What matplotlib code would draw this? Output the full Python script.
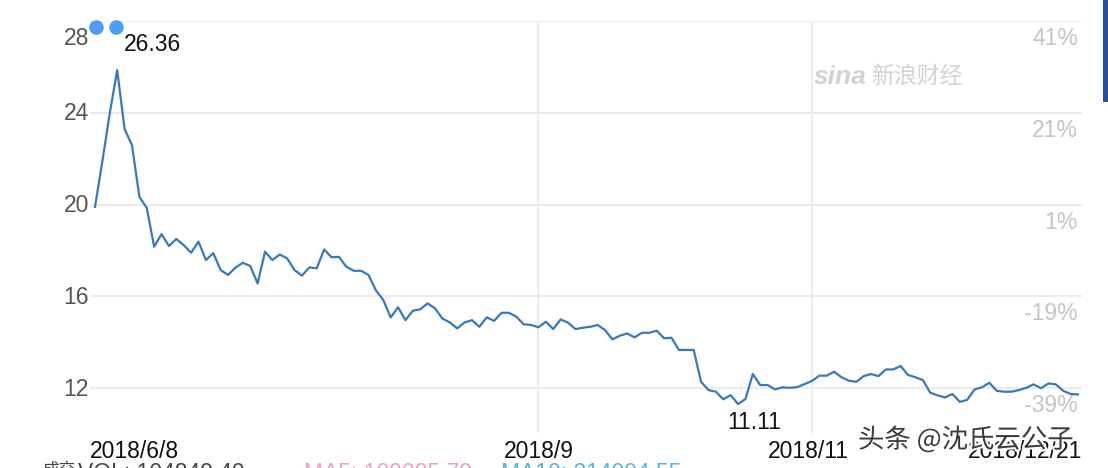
import matplotlib
matplotlib.use("Agg")
import matplotlib.pyplot as plt
import matplotlib.patheffects as pe
from matplotlib import transforms
from matplotlib.lines import Line2D
from matplotlib.patches import Rectangle

plt.rcParams['font.family'] = ['Liberation Sans', 'Noto Sans CJK SC', 'DejaVu Sans']

# daily close, 2018/6/8 .. 2018/12/21
close = [19.90, 21.90, 23.99, 25.86, 23.29, 22.59, 20.34, 19.85, 18.16, 18.71,
         18.19, 18.50, 18.23, 17.90, 18.38, 17.58, 17.88, 17.14, 16.93, 17.25,
         17.46, 17.32, 16.56, 17.94, 17.58, 17.82, 17.65, 17.14, 16.90, 17.26,
         17.22, 18.04, 17.70, 17.72, 17.29, 17.11, 17.11, 16.93, 16.26, 15.84,
         15.08, 15.52, 14.96, 15.37, 15.43, 15.69, 15.47, 15.03, 14.86, 14.60,
         14.86, 14.96, 14.67, 15.08, 14.93, 15.28, 15.28, 15.11, 14.78, 14.75,
         14.65, 14.89, 14.57, 14.99, 14.85, 14.57, 14.63, 14.67, 14.75, 14.53,
         14.12, 14.28, 14.38, 14.21, 14.41, 14.41, 14.50, 14.17, 14.19, 13.66,
         13.66, 13.66, 12.27, 11.91, 11.84, 11.51, 11.69, 11.30, 11.52, 12.61,
         12.13, 12.13, 11.94, 12.03, 12.01, 12.04, 12.17, 12.31, 12.54, 12.54,
         12.71, 12.47, 12.32, 12.27, 12.52, 12.61, 12.52, 12.81, 12.81, 12.96,
         12.57, 12.47, 12.35, 11.80, 11.68, 11.59, 11.74, 11.40, 11.48, 11.94,
         12.03, 12.23, 11.88, 11.84, 11.84, 11.91, 12.01, 12.16, 11.99, 12.20,
         12.16, 11.88, 11.74, 11.72]

price_ticks = [12, 16, 20, 24, 28]
pct_labels = ['-39%', '-19%', '1%', '21%', '41%']
date_pos = [0, 60, 97, 133]
date_labels = ['2018/6/8', '2018/9', '2018/11', '2018/12/21']
high_label = '26.36'
low_label = '11.11'
vol_parts = [('成交', '#444444'), ('VOL: 104840.40', '#444444'),
             ('MA5: 109095.79', '#f0a2bb'), ('MA10: 214094.55', '#5ab2dc')]

W, H = 1108, 468
fig = plt.figure(figsize=(W / 100, H / 100), dpi=100)

def fx(px):
    return px / W

def fy(py):
    return 1 - py / H

ax = fig.add_axes([fx(90), fy(433), fx(1082 - 90), (433 - 21) / H])
x = list(range(len(close)))
ax.plot(x, close, color='#3878bd', lw=1.6)
ax.set_xlim(-0.68, len(close) - 1 + 0.54)
ax.set_ylim(10.04, 28)
ax.set_yticks(price_ticks)
ax.set_xticks(date_pos[1:3])
ax.grid(color='#e9e9e9', lw=1.3)
ax.tick_params(length=0, labelleft=False, labelbottom=False)
for s in ax.spines.values():
    s.set_visible(False)

fs = 16.5
# left price labels
yl = transforms.blended_transform_factory(ax.transAxes, ax.transData)
for p in price_ticks:
    if p == price_ticks[-1]:
        t = transforms.offset_copy(yl, fig=fig, x=-1, y=-6, units='dots')
        ax.text(0, p, str(p), transform=t, ha='right', va='top', fontsize=fs, color='#555555')
    else:
        t = transforms.offset_copy(yl, fig=fig, x=-1, y=-1, units='dots')
        ax.text(0, p, str(p), transform=t, ha='right', va='center', fontsize=fs, color='#555555')

# right percent labels
for p, lab in zip(price_ticks, pct_labels):
    t = transforms.offset_copy(yl, fig=fig, x=-4, y=-6, units='dots')
    ax.text(1, p, lab, transform=t, ha='right', va='top', fontsize=fs, color='#c4c4c4')

# date labels
xd = transforms.blended_transform_factory(ax.transData, fig.transFigure)
aligns = ['left', 'center', 'center', 'right']
shifts = [-0.7, 0, -0.5, 0.6]
for pos, lab, ha, sh in zip(date_pos, date_labels, aligns, shifts):
    ax.text(pos + sh, fy(452), lab, transform=xd, ha=ha, va='center', fontsize=fs, color='#111111')

# high / low marks
imax = close.index(max(close))
imin = close.index(min(close))
ax.annotate(high_label, xy=(imax, close[imax]), xytext=(7, 26), textcoords='offset pixels',
            ha='left', va='center', fontsize=fs, color='#111111')
ax.annotate(low_label, xy=(imin, close[imin]), xytext=(16, -18), textcoords='offset pixels',
            ha='center', va='center', fontsize=fs, color='#111111')

# legend dots
fig.add_artist(Line2D([fx(96), fx(116)], [fy(27), fy(27)], transform=fig.transFigure,
                      ls='none', marker='o', ms=10.5, color='#4e9df2', mec='none'))

# sina watermark
fig.text(fx(814), fy(77), 'sina', fontsize=19, fontweight='bold', fontstyle='italic',
         color='#d2d2d2', ha='left', va='center')
fig.text(fx(871), fy(76), '新浪财经', fontsize=16.5, color='#d2d2d2', ha='left', va='center',
         family=['Noto Sans CJK SC'])

# right edge bar
fig.add_artist(Rectangle((fx(1103), fy(102)), fx(5), 102 / H, transform=fig.transFigure,
                         color='#2c4d9c', lw=0))

# bottom info line (cut off at figure edge)
xs = [42, 78, 304, 501]
sizes = [12, fs, fs, fs]
for (txt, c), xp, sz in zip(vol_parts, xs, sizes):
    fig.text(fx(xp), fy(462), txt, fontsize=sz, color=c, ha='left', va='top')

# toutiao watermark
fig.text(fx(858), fy(440), '头条 @沈氏云公子', fontsize=19, color='#3a3a3a', ha='left', va='center',
         family=['Noto Sans CJK SC', 'DejaVu Sans'],
         path_effects=[pe.withStroke(linewidth=3, foreground='white')])

fig.savefig('out.png', dpi=100)
